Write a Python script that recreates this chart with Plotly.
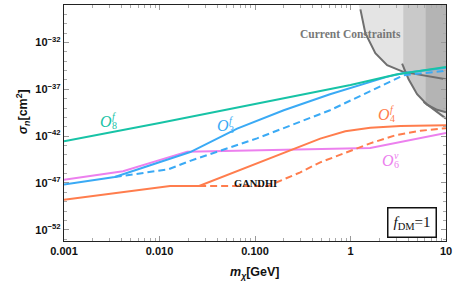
import plotly.graph_objects as go

# ---------------- data ----------------
mass_o8 = [0.001, 0.01, 0.1, 1, 3, 10]
sigma_o8 = [2.75e-43, 2.45e-41, 2.75e-39, 2.82e-37, 3.72e-36, 2.45e-35]

mass_o3 = [0.001, 0.0034, 0.008, 0.021, 0.065, 0.2, 0.61, 1.27, 2.4, 3.6, 10]
sigma_o3 = [6.9e-48, 4.27e-47, 7.6e-46, 2.0e-44, 6.3e-42, 5.75e-40, 2.95e-38,
            2.7e-37, 2.1e-36, 5.6e-36, 2.0e-35]

mass_o3_g = [0.0034, 0.0123, 0.021, 0.105, 0.61, 3.6, 10]
sigma_o3_g = [4.27e-47, 2.8e-46, 2.3e-45, 5.75e-43, 5.75e-40, 3.16e-36, 9.5e-36]

mass_o6 = [0.001, 0.00415, 0.0195, 1.61, 10]
sigma_o6 = [2.24e-47, 1.74e-46, 2.19e-44, 5.25e-44, 2.14e-42]

mass_o4 = [0.001, 0.0129, 0.026, 0.482, 0.882, 1.61, 3.33, 10]
sigma_o4 = [1.62e-49, 4.8e-48, 4.8e-48, 5.4e-43, 3.24e-42, 7.8e-42, 1.2e-41, 1.45e-41]

mass_o4_g = [0.026, 0.137, 0.298, 0.482, 0.882, 1.61, 2.95, 5.4, 10]
sigma_o4_g = [4.8e-48, 4.8e-48, 1.35e-46, 1.58e-45, 1.62e-44, 1.7e-43, 1.23e-42,
              3.7e-42, 7.1e-42]

# current-constraint boundaries
mass_bound_a = [1.27, 1.43, 1.82, 2.42, 3.57, 5.8, 10]
sigma_bound_a = [3.4e-29, 9.8e-32, 7.2e-34, 3.8e-35, 7.2e-36, 3.16e-36, 1.17e-36]
mass_bound_b = [3.47, 4.06, 4.98, 6.34, 8.07, 10]
sigma_bound_b = [5.6e-35, 1.17e-36, 2.95e-38, 2.24e-39, 6.5e-40, 3.55e-40]
mass_bound_c = [5.83, 7.55, 10]
sigma_bound_c = [4.5e-39, 5.75e-40, 7.4e-41]

region_mass = [1.22, 10, 10, 7.55, 5.83, 4.98, 4.06, 3.85, 3.57, 2.42, 1.82, 1.43, 1.27, 1.22]
region_sigma = [1e-28, 1e-28, 7.4e-41, 5.75e-40, 4.5e-39, 2.95e-38, 1.17e-36, 5.9e-36,
                7.2e-36, 3.8e-35, 7.2e-34, 9.8e-32, 3.4e-29, 1e-28]
band1_mass = [3.57, 6.08, 6.08, 4.98, 4.06, 3.85, 3.57]
band1_sigma = [1e-28, 1e-28, 3.5e-39, 2.95e-38, 1.17e-36, 5.9e-36, 7.2e-36]
band2_mass = [6.08, 10, 10, 8.07, 6.34, 6.08]
band2_sigma = [1e-28, 1e-28, 3.55e-40, 6.5e-40, 2.24e-39, 3.5e-39]

x_tickvals = [0.001, 0.01, 0.1, 1, 10]
x_ticktext = ["0.001", "0.010", "0.100", "1", "10"]
y_exponents = [-52, -47, -42, -37, -32]

TEAL = "#17c3a6"
BLUE = "#3aaaf5"
ORANGE = "#ff7d4d"
PINK = "#ec80ee"
GREYLINE = "#6f6f6f"

fig = go.Figure()

def fill(xs, ys, color):
    fig.add_trace(go.Scatter(x=xs, y=ys, mode="lines", fill="toself", fillcolor=color,
                             line=dict(width=0, color=color), hoverinfo="skip", showlegend=False))

fill(region_mass, region_sigma, "#e4e4e4")
fill(band1_mass, band1_sigma, "#c9c9c9")
fill(band2_mass, band2_sigma, "#b4b4b4")

def line(xs, ys, color, dash="solid", width=2):
    fig.add_trace(go.Scatter(x=xs, y=ys, mode="lines", line=dict(color=color, width=width, dash=dash),
                             showlegend=False, hoverinfo="skip"))

line(mass_bound_a, sigma_bound_a, GREYLINE)
line(mass_bound_b, sigma_bound_b, GREYLINE)
line(mass_bound_c, sigma_bound_c, GREYLINE)

line(mass_o6, sigma_o6, PINK)
line(mass_o4_g, sigma_o4_g, ORANGE, dash="7px,4px")
line(mass_o4, sigma_o4, ORANGE)
line(mass_o3_g, sigma_o3_g, BLUE, dash="7px,4px")
line(mass_o3, sigma_o3, BLUE)
line(mass_o8, sigma_o8, TEAL)

SERIF = "Liberation Serif"
SANS = "Liberation Sans"

ann = []

def op_label(lx, ly, sup, sub, color):
    ann.append(dict(x=lx, y=ly, xref="x", yref="y", text="<i>O</i>", showarrow=False,
                    font=dict(family=SERIF, size=16, color=color)))
    ann.append(dict(x=lx, y=ly, xref="x", yref="y", text="<i>%s</i>" % sup, showarrow=False,
                    xshift=8, yshift=5, font=dict(family=SERIF, size=10, color=color)))
    ann.append(dict(x=lx, y=ly, xref="x", yref="y", text=sub, showarrow=False,
                    xshift=8.5, yshift=-4, font=dict(family=SERIF, size=10, color=color)))

op_label(-2.56, -40.42, "f", "8", TEAL)
op_label(-1.333, -40.85, "f", "3", BLUE)
op_label(0.354, -39.67, "f", "4", ORANGE)
op_label(0.396, -44.58, "v", "6", PINK)

ann.append(dict(x=0.0, y=-31.11, xref="x", yref="y", text="Current Constraints", showarrow=False,
                font=dict(family=SERIF, size=11.5, color="#777777", weight="bold")))
ann.append(dict(x=-1.0, y=-47.1, xref="x", yref="y", text="GANDHI", showarrow=False,
                font=dict(family=SERIF, size=10.5, color="#111111", weight="bold")))
ann.append(dict(x=0.643, y=-51.22, xref="x", yref="y", text="<i>f</i><sub>DM</sub>=1",
                showarrow=False, bordercolor="#111111", borderwidth=1.5, borderpad=5,
                bgcolor="white", font=dict(family=SERIF, size=15, color="#111111")))

ann.append(dict(x=-0.136, y=0.546, xref="paper", yref="paper", textangle=-90, showarrow=False,
                text="<i>σ</i><sub><i>n</i></sub>[cm<sup>2</sup>]",
                font=dict(family=SANS, size=12.5, color="#111111", weight="bold")))
ann.append(dict(x=0.5, y=-0.1356, xref="paper", yref="paper", showarrow=False, yanchor="middle",
                text="<i>m</i><sub><i>χ</i></sub>[GeV]",
                font=dict(family=SANS, size=12.5, color="#111111", weight="bold")))

x_minor = [m * 10 ** e for e in range(-3, 1) for m in range(2, 10)]
y_minor = [10.0 ** e for e in range(-53, -27) if e not in y_exponents]

tickfont = dict(family=SANS, size=11, color="#111111", weight="bold")

fig.update_layout(
    width=454, height=288,
    margin=dict(l=64, r=8, t=5, b=47, autoexpand=False),
    paper_bgcolor="white", plot_bgcolor="white",
    annotations=ann,
    xaxis=dict(type="log", range=[-3, 1], showgrid=False, zeroline=False, automargin=False,
               showline=True, linecolor="#222222", linewidth=1.3, mirror="allticks",
               ticks="inside", ticklen=5, tickcolor="#999999", tickwidth=1,
               tickvals=x_tickvals, ticktext=x_ticktext, tickfont=tickfont,
               minor=dict(tickvals=x_minor, ticks="inside", ticklen=3, tickcolor="#aaaaaa", showgrid=False)),
    yaxis=dict(type="log", range=[-53.2, -28], showgrid=False, zeroline=False, automargin=False,
               showline=True, linecolor="#222222", linewidth=1.3, mirror="allticks",
               ticks="inside", ticklen=5, tickcolor="#999999", tickwidth=1,
               tickvals=[10.0 ** e for e in y_exponents],
               ticktext=["10<sup>−%d</sup>" % (-e) for e in y_exponents], tickfont=tickfont,
               minor=dict(tickvals=y_minor, ticks="inside", ticklen=3, tickcolor="#aaaaaa", showgrid=False)),
)

fig.write_html("out.html", config={"displayModeBar": False},
               post_script="document.body.style.margin='0';")
